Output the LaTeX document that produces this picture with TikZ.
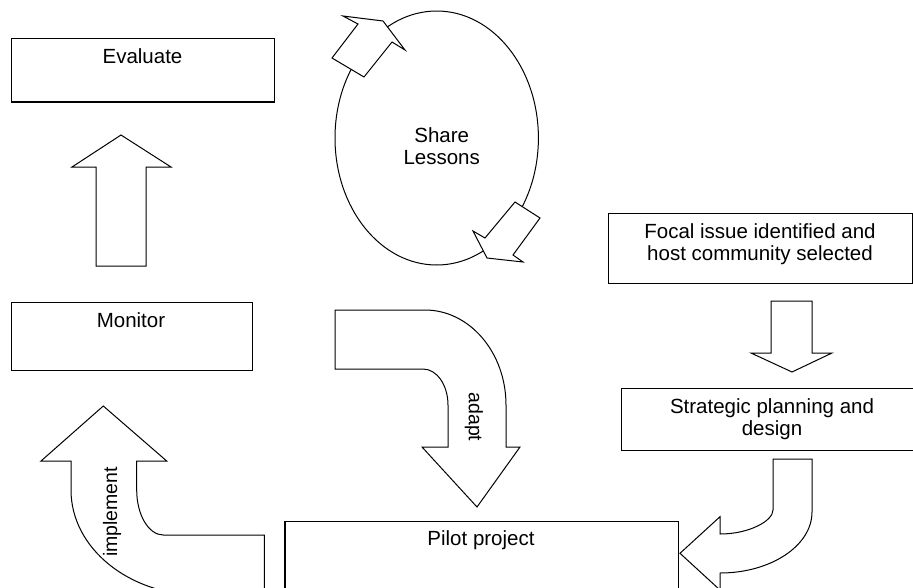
\documentclass[tikz,border=0pt]{standalone}
\usepackage{fontspec}
\setmainfont{Liberation Sans}
\usetikzlibrary{shapes.geometric}
\begin{document}
\begin{tikzpicture}[x=1pt,y=-1pt,line join=miter,
  box/.style={draw,line width=1.2pt,rectangle,inner sep=0pt,anchor=north west},
  blockarrow/.style={draw,fill=white,line width=1pt},
  lbl/.style={font=\fontsize{20.5}{22.5}\selectfont,align=center,inner sep=0pt},
  vlbl/.style={font=\fontsize{19.5}{21}\selectfont,inner sep=0pt}]
\useasboundingbox (0,0) rectangle (913,587);
\clip (0,0) rectangle (913,587);
% boxes
\node[box,minimum width=263.3pt,minimum height=63.3pt] (evalbox) at (10.7,38) {};
\node[box,minimum width=241.3pt,minimum height=68pt] (monbox) at (10.7,301.7) {};
\node[box,minimum width=304pt,minimum height=70pt] (focalbox) at (608,212.7) {};
\node[box,minimum width=292pt,minimum height=62pt] (stratbox) at (620.7,388) {};
\node[box,minimum width=393.4pt,minimum height=80pt] (pilotbox) at (284.3,520.7) {};
% ellipse
\node[draw,ellipse,line width=1pt,minimum width=203.4pt,minimum height=254pt,inner sep=0pt] (share) at (436.7,138) {};
% texts
\node[lbl,anchor=base] (tEval) at (142.5,63) {Evaluate};
\node[lbl,anchor=base] (tMon) at (131,327) {Monitor};
\node[lbl,anchor=base] (tPilot) at (481,545) {Pilot project};
\node[lbl] (tFocal) at (760,244) {Focal issue identified and\\host community selected};
\node[lbl] (tStrat) at (772,419) {Strategic planning and\\design};
\node[lbl] (tShare) at (441.7,146) {Share\\Lessons};
% straight block arrows
\draw[blockarrow] (96,266) -- (96,167) -- (72,167) -- (121,135) -- (171,167) -- (146,167) -- (146,266) -- cycle;
\draw[blockarrow] (771,301) -- (812,301) -- (812,353) -- (832,353) -- (792,372) -- (751,353) -- (771,353) -- cycle;
% share arrows
\draw[blockarrow] (343,16) -- (383,21) -- (405,50) -- (392,42) -- (364,77) -- (332,58) -- (358,24) -- cycle;
\draw[blockarrow] (515,202) -- (540,218) -- (513,255) -- (523,262) -- (487,258) -- (473,231) -- (485,238) -- cycle;
% adapt arrow
\draw[blockarrow] (335,310) -- (425,310) .. controls (469.7,310) and (506,352.6) .. (506,405)
  -- (506,447) -- (520,447) -- (477,507) -- (422,447) -- (448,447) -- (448,405)
  .. controls (448,385.1) and (436.8,369) .. (423,369) -- (335,369) -- cycle;
\node[vlbl,rotate=-90] (tAdapt) at (474,417) {adapt};
% implement arrow
\draw[blockarrow] (103.3,406) -- (166.7,461) -- (136.7,461) -- (136.7,490)
  .. controls (136.7,514.8) and (148.6,535) .. (163.3,535) -- (264.3,535) -- (264.3,595) -- (200,595)
  .. controls (128.8,595) and (71,548) .. (71,490) -- (71,461) -- (41,461) -- cycle;
\node[vlbl,rotate=90] (tImpl) at (112,512) {implement};
% strategic -> pilot arrow
\draw[blockarrow] (773,459) -- (812,459) -- (812,512) .. controls (812,545.7) and (770.8,573) .. (720,573)
  -- (720,590) -- (680,553.3) -- (720,516.7) -- (720,534)
  .. controls (749.3,534) and (773,520.8) .. (773,510) -- cycle;
\end{tikzpicture}
\end{document}
